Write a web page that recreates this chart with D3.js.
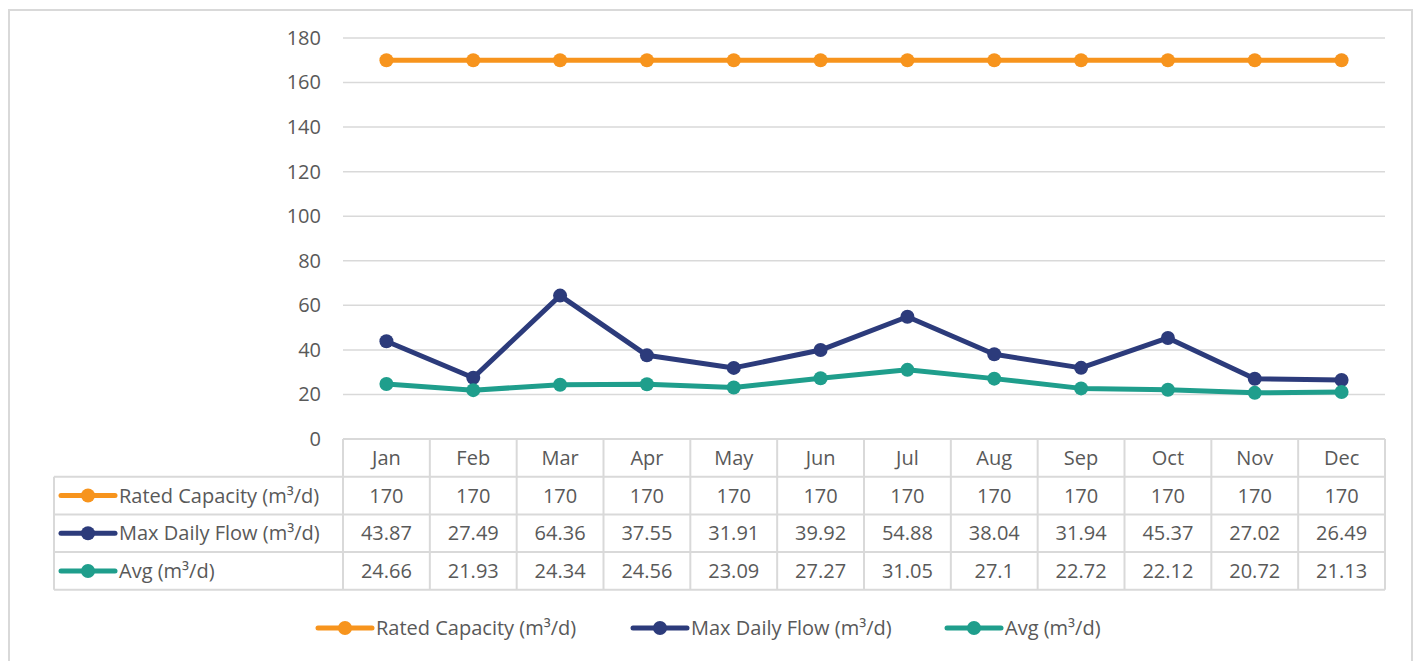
<!DOCTYPE html>
<html lang="en">
<head>
    <meta charset="UTF-8">
    <script src="https://cdn.jsdelivr.net/npm/d3@7/dist/d3.min.js"></script>
    <style type="text/css">
        * { margin: 0; padding: 0; }
        body { background-color: white; font-family: "Open Sans", "Noto Sans", sans-serif; }
        svg { display: block; }
    </style>
    <title>Flow chart</title>
</head>
<body>
    <div id="chartContainer"></div>
    <script>
        // data
        var months = ["Jan", "Feb", "Mar", "Apr", "May", "Jun", "Jul", "Aug", "Sep", "Oct", "Nov", "Dec"];
        var ratedCapacity = [170, 170, 170, 170, 170, 170, 170, 170, 170, 170, 170, 170];
        var maxDailyFlow = [43.87, 27.49, 64.36, 37.55, 31.91, 39.92, 54.88, 38.04, 31.94, 45.37, 27.02, 26.49];
        var avgFlow = [24.66, 21.93, 24.34, 24.56, 23.09, 27.27, 31.05, 27.1, 22.72, 22.12, 20.72, 21.13];
        var seriesNames = ["Rated Capacity (m³/d)", "Max Daily Flow (m³/d)", "Avg (m³/d)"];
        var seriesColors = ["#f7941d", "#2c3b7b", "#1f9e8c"];
        var yTicks = [0, 20, 40, 60, 80, 100, 120, 140, 160, 180];

        var series = [ratedCapacity, maxDailyFlow, avgFlow].map(function(v, i) {
            return { name: seriesNames[i], color: seriesColors[i], values: v };
        });

        var w = 1416, h = 661;
        var plotLeft = 343, plotRight = 1385, plotTop = 38, plotBottom = 439;
        var tableLeft = 54;
        var rowH = 37.7;
        var fontSize = "20px";
        var textColor = "#595959";
        var gridColor = "#d9d9d9";

        var svg = d3.select("#chartContainer").append("svg")
            .attr("width", w).attr("height", h);

        // outer border
        svg.append("rect")
            .attr("x", 9).attr("y", 10)
            .attr("width", 1403).attr("height", 660)
            .attr("fill", "none").attr("stroke", gridColor).attr("stroke-width", 2);

        var xScale = d3.scaleBand().domain(months).range([plotLeft, plotRight]);
        var yScale = d3.scaleLinear().domain([0, 180]).range([plotBottom, plotTop]);

        // gridlines
        svg.append("g").selectAll("line")
            .data(yTicks.slice(1))
            .enter().append("line")
            .attr("x1", plotLeft).attr("x2", plotRight)
            .attr("y1", function(d) { return yScale(d); })
            .attr("y2", function(d) { return yScale(d); })
            .attr("stroke", gridColor).attr("stroke-width", 1.5);

        // y axis
        var yAxis = d3.axisLeft(yScale).tickValues(yTicks).tickSize(0).tickPadding(22);
        var yg = svg.append("g")
            .attr("transform", "translate(" + plotLeft + ",0)")
            .call(yAxis);
        yg.select(".domain").remove();
        yg.selectAll("text").attr("fill", textColor).attr("font-size", fontSize)
            .attr("font-family", "'Open Sans', sans-serif");

        // data table
        var table = svg.append("g");
        var tableTop = plotBottom;
        var tableBottom = tableTop + rowH * 4;
        var lineStyle = function(sel) { return sel.attr("stroke", gridColor).attr("stroke-width", 2); };

        // horizontal lines
        table.append("line").attr("x1", plotLeft).attr("x2", plotRight)
            .attr("y1", tableTop).attr("y2", tableTop).call(lineStyle);
        [1, 2, 3, 4].forEach(function(r) {
            table.append("line").attr("x1", tableLeft).attr("x2", plotRight)
                .attr("y1", tableTop + r * rowH).attr("y2", tableTop + r * rowH).call(lineStyle);
        });
        // vertical lines
        table.append("line").attr("x1", tableLeft).attr("x2", tableLeft)
            .attr("y1", tableTop + rowH).attr("y2", tableBottom).call(lineStyle);
        months.forEach(function(m) {
            table.append("line").attr("x1", xScale(m)).attr("x2", xScale(m))
                .attr("y1", tableTop).attr("y2", tableBottom).call(lineStyle);
        });
        table.append("line").attr("x1", plotRight).attr("x2", plotRight)
            .attr("y1", tableTop).attr("y2", tableBottom).call(lineStyle);

        // header
        table.selectAll("text.month")
            .data(months).enter().append("text")
            .attr("class", "month")
            .attr("x", function(d) { return xScale(d) + xScale.bandwidth() / 2; })
            .attr("y", tableTop + rowH / 2 + 7)
            .attr("text-anchor", "middle")
            .attr("font-size", fontSize).attr("fill", textColor)
            .text(function(d) { return d; });

        // rows
        series.forEach(function(s, r) {
            var cy = tableTop + rowH * (r + 1) + rowH / 2;
            table.append("line").attr("x1", 61).attr("x2", 115)
                .attr("y1", cy).attr("y2", cy)
                .attr("stroke", s.color).attr("stroke-width", 5).attr("stroke-linecap", "round");
            table.append("circle").attr("cx", 88).attr("cy", cy).attr("r", 7).attr("fill", s.color);
            table.append("text").attr("x", 119).attr("y", cy + 7)
                .attr("font-size", fontSize).attr("fill", textColor)
                .text(s.name);
            table.selectAll("text.v" + r)
                .data(s.values).enter().append("text")
                .attr("class", "v" + r)
                .attr("x", function(d, i) { return xScale(months[i]) + xScale.bandwidth() / 2; })
                .attr("y", cy + 7)
                .attr("text-anchor", "middle")
                .attr("font-size", fontSize).attr("fill", textColor)
                .text(function(d) { return d; });
        });

        // lines
        var line = d3.line()
            .x(function(d, i) { return xScale(months[i]) + xScale.bandwidth() / 2; })
            .y(function(d) { return yScale(d); });

        series.forEach(function(s) {
            var g = svg.append("g");
            g.append("path").attr("d", line(s.values))
                .attr("fill", "none").attr("stroke", s.color)
                .attr("stroke-width", 5).attr("stroke-linejoin", "round");
            g.selectAll("circle").data(s.values).enter().append("circle")
                .attr("cx", function(d, i) { return xScale(months[i]) + xScale.bandwidth() / 2; })
                .attr("cy", function(d) { return yScale(d); })
                .attr("r", 7).attr("fill", s.color);
        });

        // legend
        var legendX = [318, 633, 947];
        var legendY = 628;
        series.forEach(function(s, i) {
            var g = svg.append("g").attr("transform", "translate(" + legendX[i] + "," + legendY + ")");
            g.append("line").attr("x1", 0).attr("x2", 54).attr("y1", 0).attr("y2", 0)
                .attr("stroke", s.color).attr("stroke-width", 5).attr("stroke-linecap", "round");
            g.append("circle").attr("cx", 27).attr("cy", 0).attr("r", 7).attr("fill", s.color);
            g.append("text").attr("x", 58).attr("y", 7)
                .attr("font-size", fontSize).attr("fill", textColor)
                .text(s.name);
        });
    </script>
</body>
</html>
